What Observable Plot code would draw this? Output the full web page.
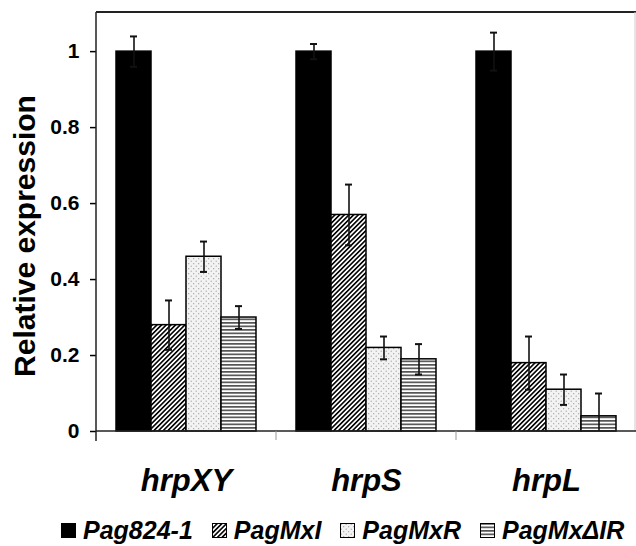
<!DOCTYPE html>
<html><head><meta charset="utf-8">
<script src="https://cdn.jsdelivr.net/npm/d3@7"></script>
<script src="https://cdn.jsdelivr.net/npm/@observablehq/plot@0.6"></script>
<style>
body{margin:0;background:#fff;font-family:"Liberation Sans",Arial,sans-serif;}
#legend{display:flex;align-items:center;padding-left:61px;margin-top:15px;height:30px;font:italic bold 25px "Liberation Sans",Arial,sans-serif;color:#000;}
.item{display:flex;align-items:center;margin-right:19px;white-space:nowrap}
.item svg{margin-right:7px;flex:none}
</style></head><body>
<svg width="0" height="0" style="position:absolute">
<defs>
<pattern id="hatch" patternUnits="userSpaceOnUse" width="3.3" height="3.3" patternTransform="rotate(45)">
<rect width="3.3" height="3.3" fill="#fff"/><line x1="0.8" y1="0" x2="0.8" y2="3.3" stroke="#000" stroke-width="1.6"/>
</pattern>
<pattern id="dots" patternUnits="userSpaceOnUse" width="5" height="5">
<rect width="5" height="5" fill="#f3f3f3"/><circle cx="1.2" cy="1.2" r="0.6" fill="#999"/><circle cx="3.7" cy="3.7" r="0.6" fill="#999"/>
</pattern>
<pattern id="stripes" patternUnits="userSpaceOnUse" width="4" height="3.5">
<rect width="4" height="3.5" fill="#fff"/><rect y="0" width="4" height="1.7" fill="#555"/>
</pattern>
</defs></svg>
<div id="chart"></div>
<div id="legend"></div>
<script>
const genes = ["hrpXY", "hrpS", "hrpL"];
const strains = ["Pag824-1", "PagMxI", "PagMxR", "PagMxΔIR"];
const pag824 = [1.00, 1.00, 1.00];
const pag824Err = [0.04, 0.02, 0.05];
const pagMxI = [0.28, 0.57, 0.18];
const pagMxIErr = [0.065, 0.08, 0.07];
const pagMxR = [0.46, 0.22, 0.11];
const pagMxRErr = [0.04, 0.03, 0.04];
const pagMxDIR = [0.30, 0.19, 0.04];
const pagMxDIRErr = [0.03, 0.04, 0.06];
const yTicks = [0, 0.2, 0.4, 0.6, 0.8, 1];
const fills = ["black", "url(#hatch)", "url(#dots)", "url(#stripes)"];

const seriesVals = [pag824, pagMxI, pagMxR, pagMxDIR];
const seriesErrs = [pag824Err, pagMxIErr, pagMxRErr, pagMxDIRErr];
const table = [];
genes.forEach((g, gi) => strains.forEach((s, si) => {
  table.push({gene: g, strain: s, value: seriesVals[si][gi], err: seriesErrs[si][gi]});
}));
const lo = d => Math.max(0, d.value - d.err), hi = d => d.value + d.err;

const chart = Plot.plot({
  width: 636, height: 500,
  marginTop: 12, marginBottom: 69, marginLeft: 96, marginRight: 0,
  style: {fontFamily: "'Liberation Sans', Arial, sans-serif", color: "black", background: "white", overflow: "visible"},
  fx: {domain: genes, padding: 0, label: null},
  x: {domain: strains, paddingInner: 0, paddingOuter: 0.55, axis: null},
  y: {domain: [0, 1.103], label: null},
  color: {domain: strains, range: fills},
  marks: [
    Plot.barY(table, {fx: "gene", x: "strain", y: "value", fill: "strain", stroke: "#000", strokeWidth: 1.5}),
    Plot.ruleX(table, {fx: "gene", x: "strain", y1: lo, y2: hi, stroke: "#111", strokeWidth: 1.6}),
    Plot.tickY(table, {fx: "gene", x: "strain", y: hi, insetLeft: 14, insetRight: 14, stroke: "#111", strokeWidth: 2}),
    Plot.tickY(table.filter(d => d.value - d.err > 0), {fx: "gene", x: "strain", y: lo, insetLeft: 14, insetRight: 14, stroke: "#111", strokeWidth: 2}),
    Plot.axisY({ticks: yTicks, tickFormat: d => String(+d.toFixed(1)), tickSize: 6, tickPadding: 11, fontSize: 21, fontWeight: "bold", label: null, strokeWidth: 1.5}),
    Plot.axisY({ticks: [], tickSize: 0, label: "Relative expression", labelArrow: "none", labelAnchor: "center", labelOffset: 83, fontSize: 30, fontWeight: "bold"}),
    Plot.axisFx({anchor: "bottom", tickSize: 0, tickPadding: 37, fontSize: 31, fontWeight: "bold", fontStyle: "italic", label: null})
  ]
});
document.getElementById("chart").appendChild(chart);

// nudge the y-axis label down a little, as in the reference
const lab = chart.querySelector('[aria-label="y-axis label"]');
if (lab) {
  const w = document.createElementNS("http://www.w3.org/2000/svg", "g");
  w.setAttribute("transform", "translate(0,14)");
  lab.parentNode.insertBefore(w, lab);
  w.appendChild(lab);
}

// frame lines derived from the plot's own scales
const fx = chart.scale("fx"), ys = chart.scale("y");
const xl = fx.apply(genes[0]);
const xr = fx.apply(genes[genes.length - 1]) + fx.bandwidth;
const yt = ys.apply(ys.domain[1]), yb = ys.apply(0);
const g = d3.select(chart).append("g");
g.append("line").attr("x1", xl).attr("x2", xr).attr("y1", yt).attr("y2", yt).attr("stroke", "#222").attr("stroke-width", 2);
g.append("line").attr("x1", xr - 1).attr("x2", xr - 1).attr("y1", yt).attr("y2", yb).attr("stroke", "#ccc").attr("stroke-width", 1);
g.append("line").attr("x1", xl).attr("x2", xl).attr("y1", yt).attr("y2", yb + 10).attr("stroke", "#222").attr("stroke-width", 1.5);
g.append("line").attr("x1", xl).attr("x2", xr).attr("y1", yb).attr("y2", yb).attr("stroke", "#222").attr("stroke-width", 1.5);
genes.slice(1).forEach(gn => {
  const x = fx.apply(gn);
  g.append("line").attr("x1", x).attr("x2", x).attr("y1", yb).attr("y2", yb + 9).attr("stroke", "#999").attr("stroke-width", 1);
});

// legend
const legend = d3.select("#legend");
strains.forEach((s, i) => {
  const item = legend.append("div").attr("class", "item");
  const sw = item.append("svg").attr("width", 15).attr("height", 15);
  sw.append("rect").attr("x", 0.5).attr("y", 0.5).attr("width", 14).attr("height", 14)
    .attr("fill", fills[i]).attr("stroke", "#000").attr("stroke-width", 1);
  item.append("span").text(s);
});
</script>
</body></html>
